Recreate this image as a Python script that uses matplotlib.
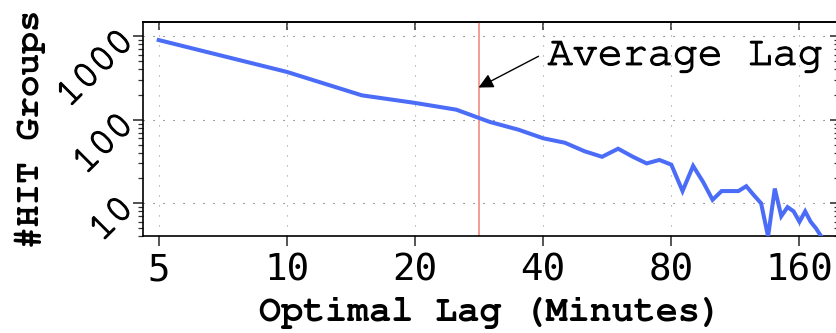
import numpy as np
import matplotlib
matplotlib.use("Agg")
import matplotlib.pyplot as plt
import matplotlib.patheffects as pe

# optimal lag (minutes) vs number of HIT groups
lag_minutes = [5, 10, 15, 20, 25, 30, 35, 40, 45, 50, 55, 60, 65, 70, 75, 80,
               85, 90, 95, 100, 105, 110, 115, 120, 125, 130, 135, 140, 145,
               150, 155, 160, 165, 170, 175, 180]
hit_groups = [900, 374, 196, 159, 132, 94, 76, 60, 53, 42, 36, 45, 36, 30, 33,
              29, 14, 28, 18, 11, 14, 14, 14, 16, 12.5, 10, 4, 15, 7, 9, 8, 6,
              8, 6, 5, 4]
average_lag = 28.2
x_ticks = [5, 10, 20, 40, 80, 160]
y_ticks = [10, 100, 1000]

mono = ["FreeMono", "Liberation Mono"]
tick_font = "DejaVu Sans Mono"
# FreeMono is very light, thicken it a bit
heavier = [pe.withStroke(linewidth=0.9, foreground="black")]

fig = plt.figure(figsize=(8.37, 3.33), dpi=100)
ax = fig.add_axes([0.1712, 0.2898, 0.8288, 0.6456])

ax.plot(lag_minutes, hit_groups, color="#4a6cf7", lw=2.9, solid_joinstyle="miter",
        zorder=3)
ax.axvline(average_lag, color="#f08a80", lw=1.2, zorder=2)

ax.set_xscale("log", base=2)
ax.set_yscale("log")
ax.set_xlim(4.6, 196)
ax.set_ylim(4, 1500)

ax.set_xticks(x_ticks, [str(v) for v in x_ticks], fontfamily=tick_font,
              fontsize=27)
ax.xaxis.set_minor_locator(matplotlib.ticker.NullLocator())
ax.set_yticks(y_ticks, [str(v) for v in y_ticks], fontfamily=mono, fontsize=28,
              rotation=45, rotation_mode="anchor", ha="right", va="center")
for lbl in ax.get_yticklabels():
    lbl.set_path_effects(heavier)

ax.tick_params(axis="x", which="major", direction="out", length=7.5, width=1.4,
               color="#555555", pad=4)
ax.tick_params(axis="y", which="major", direction="out", length=7.5, width=1.2,
               color="#333333", pad=3)
ax.tick_params(axis="y", which="minor", direction="out", length=3.5, width=0.9,
               color="#333333")

# inward ticks on top and right
top = ax.secondary_xaxis("top")
top.set_xticks(x_ticks)
top.xaxis.set_minor_locator(matplotlib.ticker.NullLocator())
top.tick_params(direction="in", length=6, width=1.4, color="#555555",
                labeltop=False)
right = ax.secondary_yaxis("right")
right.set_yticks(y_ticks)
right.tick_params(which="major", direction="in", length=5, width=1.2,
                  color="#333333", labelright=False)
right.tick_params(which="minor", direction="in", length=2.5, width=0.9,
                  color="#333333")
for sec in (top, right):
    for s in sec.spines.values():
        s.set_linewidth(1.2)

ax.grid(True, which="major", axis="y", color="#555555", lw=0.8,
        linestyle=(0, (1, 8)))
ax.grid(True, which="major", axis="x", color="#999999", lw=0.8,
        linestyle=(0, (1, 8)))
for s in ax.spines.values():
    s.set_linewidth(1.2)

ax.annotate("", xy=(average_lag, 243), xytext=(39, 575),
            arrowprops=dict(arrowstyle="-|>", color="black", lw=1,
                            mutation_scale=22, shrinkA=0, shrinkB=0))
ax.text(41, 575, "Average Lag", fontfamily=mono, fontsize=30, ha="left",
        va="center", path_effects=heavier)

ax.set_xlabel("Optimal Lag (Minutes)", fontfamily=mono, fontweight="bold",
              fontsize=26.5, labelpad=6)
ax.set_ylabel("#HIT Groups", fontfamily=mono, fontweight="bold", fontsize=26,
              labelpad=4)

fig.savefig("out.png", dpi=100)
